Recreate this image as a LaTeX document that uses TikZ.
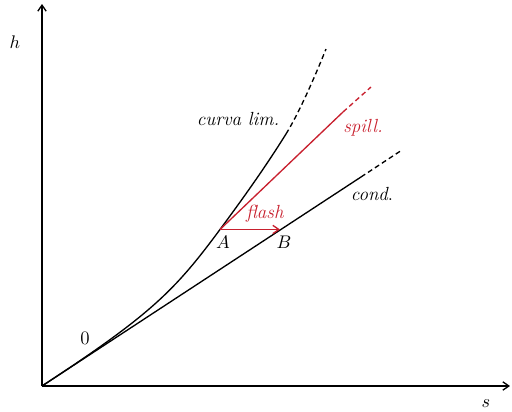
\documentclass[tikz,border=0pt]{standalone}
\usetikzlibrary{positioning, arrows.meta}

\begin{document}
\begin{tikzpicture}[x=0.6pt, y=-0.6pt, line width=0.8pt]
  % Couleurs
  \definecolor{rougespill}{RGB}{200,32,46}
  \tikzset{
    trait/.style={line width=0.8pt},
    pointille/.style={line width=0.8pt, dash pattern=on 3pt off 2pt},
    fleche/.style={-{Straight Barb[length=3.6pt, width=5pt]}},
    etiquette/.style={font=\fontsize{11.4}{13}\selectfont, inner sep=1pt}
  }
  \useasboundingbox (0,0) rectangle (512,412);

  % Points de référence
  \coordinate (O) at (42,386);
  \coordinate (hmax) at (42,4);
  \coordinate (smax) at (510,386);
  \coordinate (A) at (220,229.5);
  \coordinate (B) at (280,229.5);
  \coordinate (lim1) at (286,134);
  \coordinate (lim2) at (326,49);
  \coordinate (cond1) at (361,177);
  \coordinate (cond2) at (402,150);
  \coordinate (spill1) at (343,112);
  \coordinate (spill2) at (371,87);

  % Axes
  \draw[fleche, trait] (O) -- (hmax);
  \draw[fleche, trait] (O) -- (smax);
  \node[etiquette] (h) at (15,42) {$h$};
  \node[etiquette] (s) at (486,404) {$s$};
  \node[etiquette] (zero) at (85,338) {0};

  % Courbe limite
  \draw[trait] (O) .. controls (152,314) and (175,290.2) .. (A)
               .. controls (245,195.7) and (266,166) .. (lim1);
  \draw[pointille] (lim1) .. controls (298,114.8) and (314,79) .. (lim2);
  \node[etiquette] (curva) at (238,119) {\textit{curva lim.}};

  % Condensation
  \draw[trait] (O) -- (cond1);
  \draw[pointille] (cond1) -- (cond2);
  \node[etiquette] (cond) at (372,194) {\textit{cond}.};

  % Spillamento
  \draw[trait, color=rougespill] (A) -- (spill1);
  \draw[pointille, color=rougespill] (spill1) -- (spill2);
  \node[etiquette, color=rougespill] (spill) at (363,128) {\textit{spill.}};

  % Flash A -> B
  \draw[fleche, trait, color=rougespill] (A) -- (B);
  \node[etiquette, color=rougespill] (flash) at (265,214) {\textit{flash}};
  \node[etiquette] (lA) at (223,242) {$A$};
  \node[etiquette] (lB) at (284,242) {$B$};
\end{tikzpicture}
\end{document}
